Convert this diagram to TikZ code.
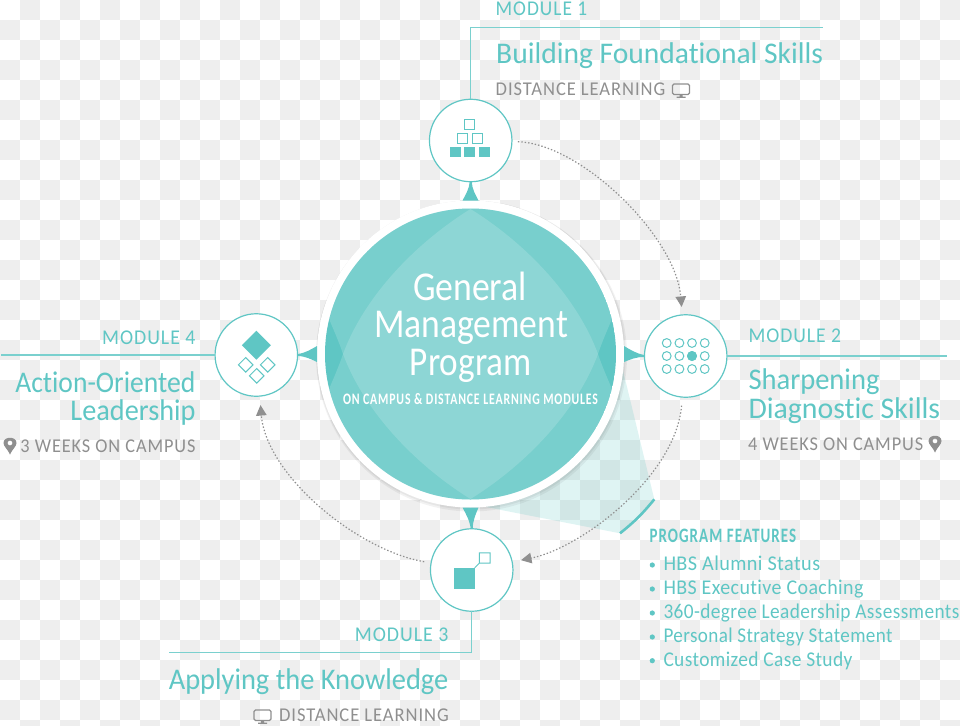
\documentclass[tikz,border=0pt]{standalone}
\usepackage{fontspec}
\setmainfont[Ligatures=NoCommon]{Carlito}
\newfontfamily\spacedfont[LetterSpace=5,Ligatures=NoCommon]{Carlito}
\newfontfamily\listfont[LetterSpace=2,Ligatures=NoCommon]{Carlito}
\newfontfamily\boldcond[LetterSpace=7]{Carlito Bold}
\usepackage{tikz}
\usetikzlibrary{arrows.meta, calc, positioning}
\definecolor{gmpteal}{HTML}{5FC6C4}
\definecolor{railteal}{HTML}{7AD0CE}
\definecolor{infogray}{HTML}{8F8F8F}
\definecolor{gridgray}{HTML}{EEEEEE}
\newcommand{\fit}[2]{\resizebox{#1pt}{\height}{#2}} % squeezes a text to a set width
\tikzset{
>={Triangle[length=10.5pt,width=10.5pt]}, % grey heads on the dotted arrows
hub/.style={circle, fill=white, minimum size=307pt, inner sep=0pt, outer sep=0pt}, % white ring round the disc
module/.style={circle, draw=gmpteal, fill=white, line width=1.2pt, minimum size=82.5pt, inner sep=0pt, outer sep=0pt},
spike/.style={fill=gmpteal},
rail/.style={draw=railteal, line width=1.5pt},
flow/.style={->, draw=infogray, line width=1.2pt, dash pattern=on 1.4pt off 2pt},
tag/.style={text=gmpteal, font=\spacedfont\fontsize{21}{21}\selectfont, inner sep=0pt},
heading/.style={text=gmpteal, font=\fontsize{30}{30}\selectfont, inner sep=0pt},
info/.style={text=infogray, font=\spacedfont\fontsize{19.5}{19.5}\selectfont, inner sep=0pt},
hubtext/.style={text=white, font=\fontsize{41}{41}\selectfont, inner sep=0pt, anchor=base},
feature/.style={text=gmpteal, font=\listfont\fontsize{21}{21}\selectfont, inner sep=0pt, anchor=base west},
monitor/.pic={
\draw[infogray, line width=1.3pt, rounded corners=1.5pt] (-8.5,-6.5) rectangle (8.5,4);
\fill[infogray] (-1.5,4) rectangle (1.5,6.2) (-4.5,6.2) rectangle (4.5,7.4);
},
mappin/.pic={
\fill[infogray, even odd rule] (0,9) .. controls (-2,4) and (-6.5,1) .. (-6.5,-2.5) .. controls (-6.5,-9.5) and (6.5,-9.5) .. (6.5,-2.5) .. controls (6.5,1) and (2,4) .. (0,9) -- cycle (0,-2.5) circle (2.5);
},
}
\begin{document}
\begin{tikzpicture}[x=1pt, y=-1pt]
\useasboundingbox (0,0) rectangle (960,725);
% checker backdrop
\begin{scope}
\clip (0,0) rectangle (960,725);
\foreach \i in {0,...,47}
\foreach \j in {0,...,36}{
\ifodd\numexpr\i+\j\relax
\fill[gridgray] (20*\i,20*\j) rectangle +(20,20);
\fi
}
\end{scope}
% wedge and its bar
\fill[gmpteal, opacity=0.2] (610,317) -- (654.3,499.3) -- (620,533.3) -- (440,498) -- cycle;
\draw[gmpteal, line width=2.6pt] (654.3,499.3) to[bend left=6] (620,533.3);
% soft shadow under the ring
\fill[black, opacity=0.05] (471.5,356) circle (155.5);
\fill[black, opacity=0.05] (471,355) circle (154.5);
% nodes
\node[hub] (gmp) at (470.5,354) {};
\node[module] (m1) at (470.7,140.5) {};
\node[module] (m2) at (685.7,356) {};
\node[module] (m3) at (471.7,570) {};
\node[module] (m4) at (256.3,355) {};
% disc with two overlapping tints
\begin{scope}
\clip (gmp.center) circle (145.5);
\fill[gmpteal] (gmp.center) circle (146);
\fill[white, opacity=0.16] (470.5,209) .. controls (530,246) and (578,300) .. (598,354) .. controls (604,372) and (612,388) .. (625,420) -- (625,510) -- (316,510) -- (316,420) .. controls (329,388) and (337,372) .. (343,354) .. controls (363,300) and (411,246) .. (470.5,209) -- cycle;
\fill[white, opacity=0.16] (470.5,499) .. controls (530,462) and (578,408) .. (598,354) .. controls (604,336) and (612,320) .. (625,288) -- (625,198) -- (316,198) -- (316,288) .. controls (329,320) and (337,336) .. (343,354) .. controls (363,408) and (411,462) .. (470.5,499) -- cycle;
\end{scope}
% pins between disc and modules
\foreach \m/\a/\b in {m1/90/270, m2/0/180, m3/270/90, m4/180/0}
\fill[spike] ($(\m.\b)+(\a+90:1)$) .. controls ($(\m.\b)!.4!(gmp.\a)+(\a+90:1.5)$) and ($(\m.\b)!.7!(gmp.\a)+(\a+90:5)$) .. ($(gmp.\a)+(\a+90:8)$) -- ($(gmp.\a)+(\a-90:8)$) .. controls ($(\m.\b)!.7!(gmp.\a)+(\a-90:5)$) and ($(\m.\b)!.4!(gmp.\a)+(\a-90:1.5)$) .. ($(\m.\b)+(\a-90:1)$) -- cycle;
% rails
\coordinate (m1end) at (822.7,27.5);
\coordinate (m2end) at (946.7,356);
\coordinate (m3end) at (169,652.3);
\coordinate (m4end) at (1,355);
\draw[rail] (m1.north) |- (m1end);
\draw[rail] (m2.east) -- (m2end);
\draw[rail] (m3.south) |- (m3end);
\draw[rail] (m4.west) -- (m4end);
% dotted flow between modules
\draw[flow, shorten <=6pt, shorten >=8pt] (m1) .. controls +(110,3) and +(-10,-120) .. (m2);
\draw[flow, shorten <=8.5pt, shorten >=9pt] (m2) .. controls +(-10,120) and +(110,-22) .. (m3);
\draw[flow, shorten <=7pt, shorten >=9pt] (m3) .. controls +(-115,-20) and +(10,120) .. (m4);
% module 1 icon: stacked blocks
\draw[gmpteal, line width=1pt] (464.7,119.8) rectangle +(10,10) (457.7,133.8) rectangle +(10,10) (472,133.8) rectangle +(10,10);
\foreach \x in {450,464.3,478.7}
\fill[gmpteal] (\x,146.5) rectangle +(11,10.7);
% module 2 icon: dot grid
\foreach \x in {-19,-6.3,6.3,19}
\foreach \y in {-13,0,13}
\draw[gmpteal, line width=1pt] ($(m2.center)+(\x,\y)$) circle (4.4);
\fill[gmpteal] ($(m2.center)+(6.3,0)$) circle (5);
% module 3 icon
\fill[gmpteal] (454,567.8) rectangle (474.7,588.5);
\draw[gmpteal, line width=1pt] (479.3,552.8) rectangle (490,563.2) (474.7,567.8) -- (479.3,563.2);
% module 4 icon: diamonds
\fill[gmpteal] (256.3,330.7) -- (270.8,345.2) -- (256.3,359.7) -- (241.8,345.2) -- cycle;
\foreach \x/\y in {245.7/364.8, 267.7/364.8, 256.7/375.8}
\draw[gmpteal, line width=1pt] (\x,\y-7.3) -- (\x+7.3,\y) -- (\x,\y+7.3) -- (\x-7.3,\y) -- cycle;
% hub text
\node[hubtext] (gmpa) at (470,300.7) {\fit{114}{General}};
\node[hubtext] (gmpb) at (471,337.7) {\fit{194}{Management}};
\node[hubtext] (gmpc) at (470.8,375) {\fit{121.7}{Program}};
\node[text=white, font=\boldcond\fontsize{16}{16}\selectfont, inner sep=0pt, anchor=base] (gmpd) at (470.5,404) {\fit{255}{ON CAMPUS \& DISTANCE LEARNING MODULES}};
% module 1 text
\node[tag, anchor=base west] (t1) at (495.5,15.4) {\fit{91.5}{MODULE 1}};
\node[heading, anchor=base west] (h1) at (496,63.4) {\fit{327}{Building Foundational Skills}};
\node[info, anchor=base west] (i1) at (495.5,95.7) {\fit{169.5}{DISTANCE LEARNING}};
\pic at (681,90.5) {monitor};
% module 2 text
\node[tag, anchor=base west] (t2) at (748.3,342.4) {\fit{92.7}{MODULE 2}};
\node[heading, anchor=base west] (h2a) at (748.3,389.7) {\fit{131}{Sharpening}};
\node[heading, anchor=base west] (h2b) at (748.3,418) {\fit{191.7}{Diagnostic Skills}};
\node[info, anchor=base west] (i2) at (748,450) {\fit{175}{4 WEEKS ON CAMPUS}};
\pic at (935,443.5) {mappin};
% module 3 text
\node[tag, anchor=base east] (t3) at (448.7,641.7) {\fit{93.7}{MODULE 3}};
\node[heading, anchor=base east] (h3) at (448.5,689.7) {\fit{279.5}{Applying the Knowledge}};
\node[info, anchor=base east] (i3) at (449,721.4) {\fit{169.7}{DISTANCE LEARNING}};
\pic at (262.5,716.5) {monitor};
% module 4 text
\node[tag, anchor=base east] (t4) at (195.7,344.7) {\fit{93.4}{MODULE 4}};
\node[heading, anchor=base east] (h4a) at (195.5,392.4) {\fit{180}{Action-Oriented}};
\node[heading, anchor=base east] (h4b) at (195.7,420.7) {\fit{125}{Leadership}};
\node[info, anchor=base east] (i4) at (195.7,452.4) {\fit{175}{3 WEEKS ON CAMPUS}};
\pic at (10,445.5) {mappin};
% features
\node[text=gmpteal, font=\boldcond\fontsize{20.5}{20.5}\selectfont, inner sep=0pt, anchor=base west] (fhead) at (649.3,542.4) {\fit{146.7}{PROGRAM FEATURES}};
\foreach \n/\y/\w/\t in {a/570.7/156.7/HBS Alumni Status, b/594.7/200/HBS Executive Coaching, c/618.7/295.8/360-degree Leadership Assessments, d/642.7/229/Personal Strategy Statement, e/666.4/189/Customized Case Study}{
\fill[gmpteal] (652.3,\y-5.7) circle (2.6);
\node[feature] (f\n) at (663.3,\y) {\fit{\w}{\t}};
}
\end{tikzpicture}
\end{document}
